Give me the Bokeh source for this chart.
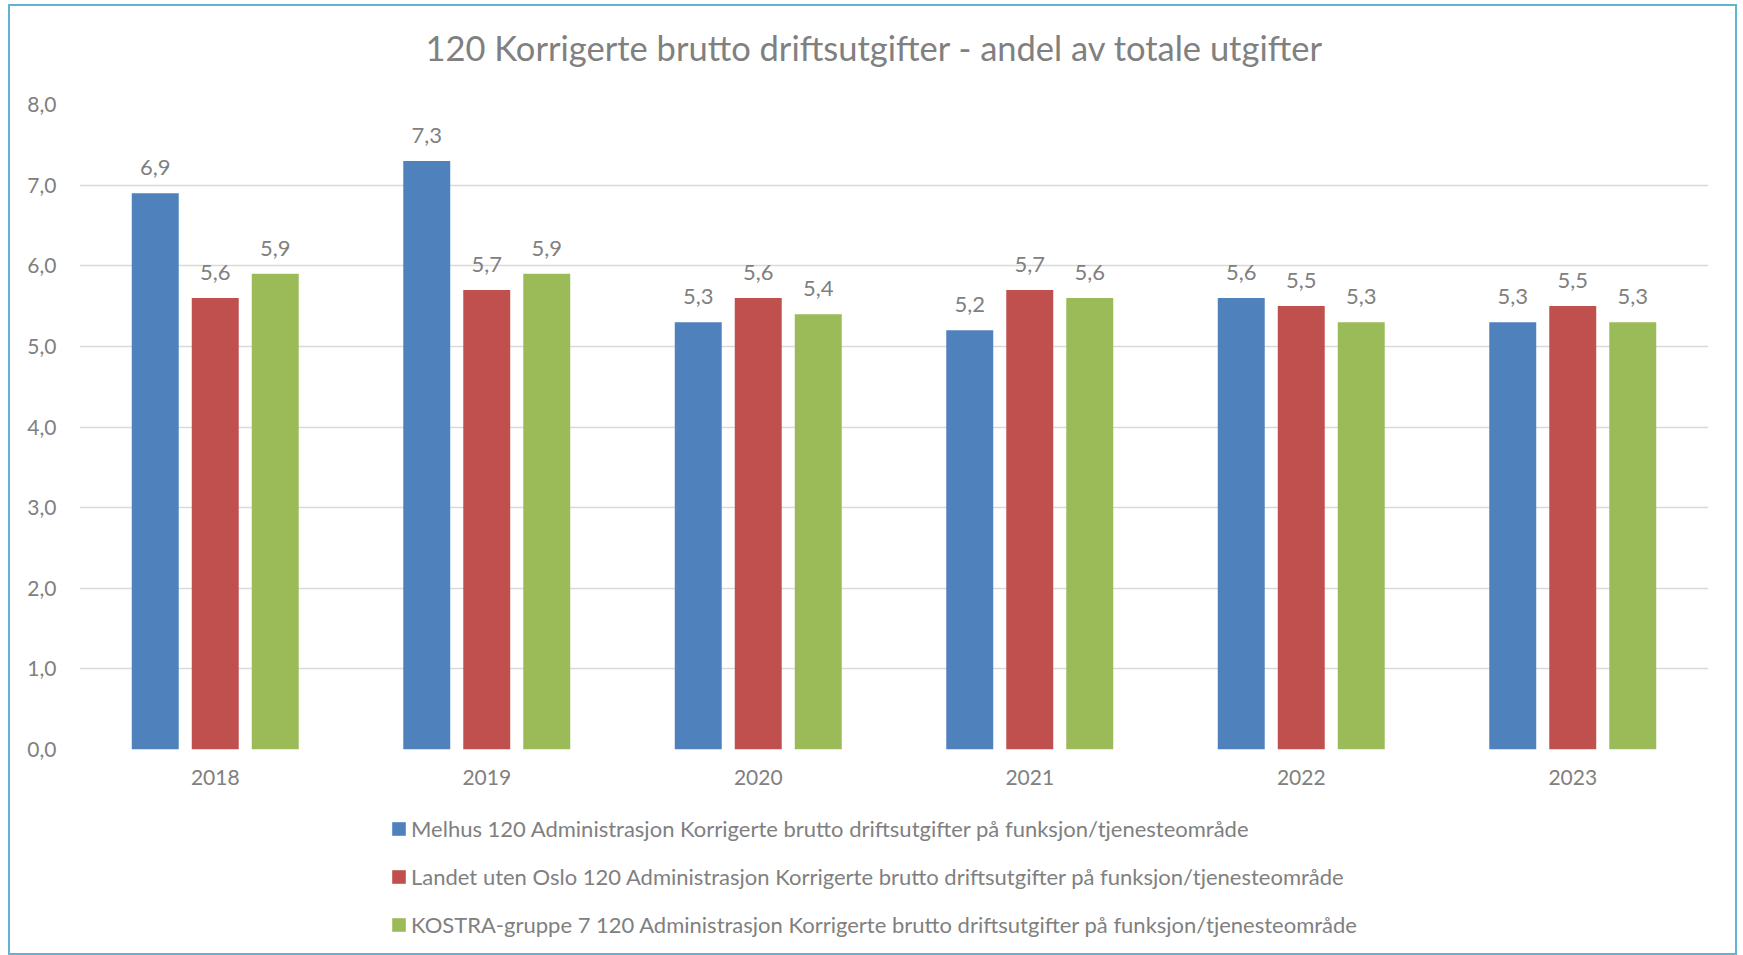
from bokeh.plotting import figure
from bokeh.layouts import column
from bokeh.models import (ColumnDataSource, FactorRange, FixedTicker, Legend, LegendItem,
                          LabelSet, Label, Range1d)
from bokeh.transform import dodge
from bokeh.core.properties import value
from bokeh.embed import file_html
from bokeh.resources import INLINE

years = ["2018", "2019", "2020", "2021", "2022", "2023"]
melhus = [6.9, 7.3, 5.3, 5.2, 5.6, 5.3]
landet = [5.6, 5.7, 5.6, 5.7, 5.5, 5.5]
kostra = [5.9, 5.9, 5.4, 5.6, 5.3, 5.3]
series_names = [
    "Melhus 120 Administrasjon Korrigerte brutto driftsutgifter på funksjon/tjenesteområde",
    "Landet uten Oslo 120 Administrasjon Korrigerte brutto driftsutgifter på funksjon/tjenesteområde",
    "KOSTRA-gruppe 7 120 Administrasjon Korrigerte brutto driftsutgifter på funksjon/tjenesteområde",
]
y_ticks = [0, 1, 2, 3, 4, 5, 6, 7, 8]
y_tick_labels = ["0,0", "1,0", "2,0", "3,0", "4,0", "5,0", "6,0", "7,0", "8,0"]
title_text = "120 Korrigerte brutto driftsutgifter - andel av totale utgifter"

colors = ["#4F81BD", "#C0504D", "#9BBB59"]
text_color = "#808080"
FONT = "Lato"
W = 1725

# --- title strip ---
pt = figure(width=W, height=83, x_range=Range1d(0, 1), y_range=Range1d(0, 1),
            x_axis_type=None, y_axis_type=None, output_backend="svg", toolbar_location=None,
            min_border=0)
pt.outline_line_color = None
pt.grid.visible = False
pt.add_layout(Label(x=795, y=42, x_units="screen", y_units="screen", text=title_text,
                    text_align="center", text_baseline="middle", text_font=FONT,
                    text_font_size="34.5px", text_color=text_color))

# --- chart ---
p = figure(x_range=FactorRange(*years), y_range=Range1d(0, 8),
           width=W, height=711, output_backend="svg", toolbar_location=None,
           min_border_left=69, min_border_right=27, min_border_top=15, min_border_bottom=51)
p.outline_line_color = None
p.xgrid.grid_line_color = None
p.ygrid.grid_line_color = "#D9D9D9"
p.ygrid.grid_line_width = 1.5

p.yaxis.ticker = FixedTicker(ticks=y_ticks)
p.yaxis.major_label_overrides = {t: l for t, l in zip(y_ticks, y_tick_labels)}
for ax in (p.xaxis, p.yaxis):
    ax.axis_line_color = None
    ax.major_tick_line_color = None
    ax.minor_tick_line_color = None
    ax.major_tick_out = 0
    ax.major_tick_in = 0
    ax.minor_tick_out = 0
    ax.major_label_text_font = FONT
    ax.major_label_text_font_size = "21px"
    ax.major_label_text_color = text_color
p.yaxis.major_label_standoff = 23
p.xaxis.major_label_standoff = 20

offsets = [-0.221, 0.0, 0.221]
all_vals = [melhus, landet, kostra]
sources = []
for vals, col, off in zip(all_vals, colors, offsets):
    src = ColumnDataSource(dict(year=years, val=vals,
                                lbl=[f"{v:.1f}".replace(".", ",") for v in vals]))
    sources.append(src)
    p.vbar(x=dodge("year", off, range=p.x_range), top="val", width=0.173,
           source=src, fill_color=col, line_color=None)
    p.add_layout(LabelSet(x=dodge("year", off, range=p.x_range), y="val", text="lbl", source=src,
                          text_align="center", text_baseline="bottom", y_offset=18,
                          text_font=value(FONT), text_font_size="22px", text_color=text_color))

# --- legend strip (frame is aligned with the chart frame by the column) ---
pl = figure(width=W, height=153, x_range=FactorRange(*years), y_range=Range1d(0, 8),
            x_axis_type=None, y_axis_type=None, output_backend="svg", toolbar_location=None,
            min_border=0)
pl.outline_line_color = None
pl.grid.visible = False
items = []
for src, col, off, name in zip(sources, colors, offsets, series_names):
    r = pl.vbar(x=dodge("year", off, range=pl.x_range), top="val", width=0.173,
                source=src, fill_color=col, line_color=None, visible=False)
    items.append(LegendItem(label=name, renderers=[r]))
legend = Legend(items=items, location=(311, 15), orientation="vertical",
                glyph_width=17, glyph_height=17, label_height=24, spacing=21,
                label_standoff=4, padding=0, margin=0,
                label_text_font=FONT, label_text_font_size="22px", label_text_color=text_color,
                border_line_color=None, background_fill_alpha=0)
pl.add_layout(legend, "center")

layout = column(pt, p, pl, spacing=0,
                styles={"border": "2px solid #62B3CF", "margin-left": "8px", "margin-top": "4px"})

open("out.html", "w").write(file_html(layout, INLINE))
